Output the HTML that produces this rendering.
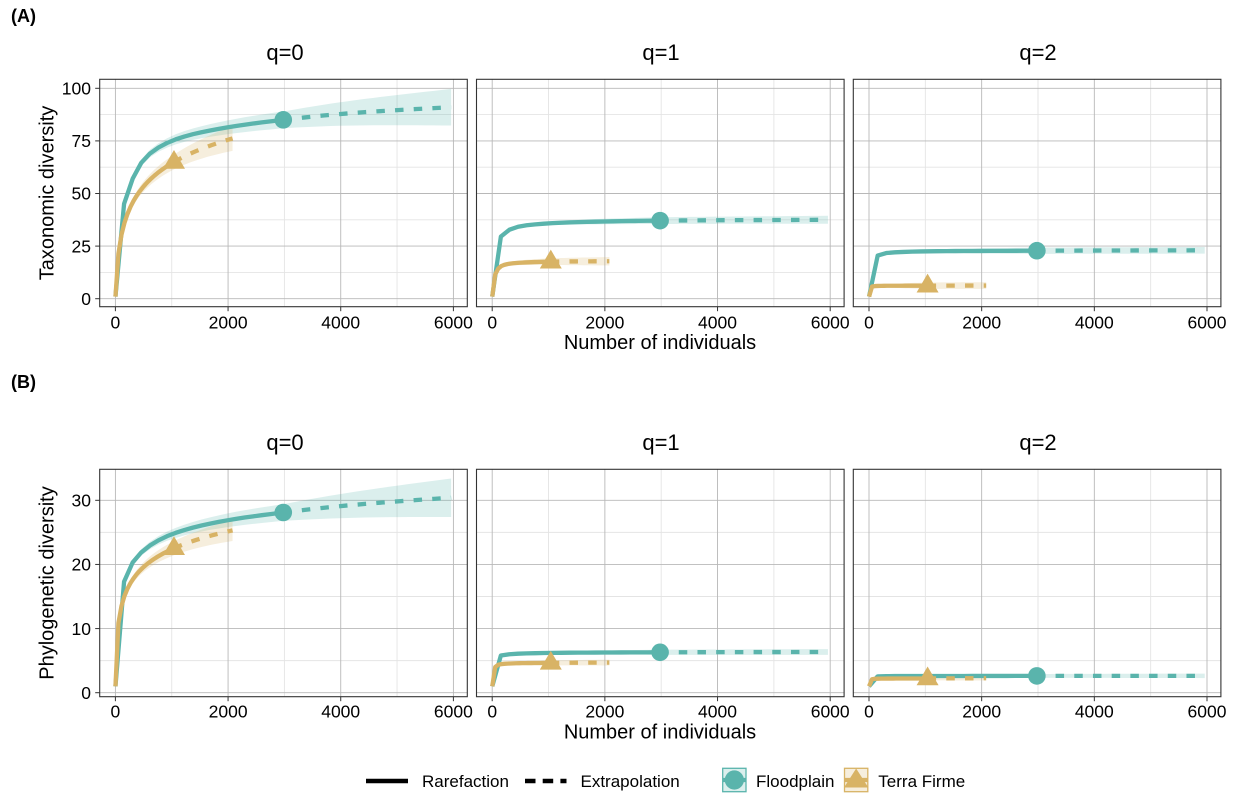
<!DOCTYPE html>
<html><head><meta charset="utf-8">
<style>
html,body{margin:0;padding:0;background:#fff;}
svg{display:block;font-family:"Liberation Sans",Arial,sans-serif;}
</style></head>
<body>
<svg id="s" width="1239" height="797" viewBox="0 0 1239 797" xmlns="http://www.w3.org/2000/svg">
<rect width="1239" height="797" fill="#fff"/>
<defs id="defs"></defs>
<g id="plots"></g>

<!-- panel labels -->
<g font-weight="bold" font-size="18" fill="#000">
<text x="11" y="22">(A)</text>
<text x="11" y="388">(B)</text>
</g>

<!-- strip titles -->
<g font-size="22" fill="#000" text-anchor="middle">
<text x="285" y="60">q=0</text>
<text x="661" y="60">q=1</text>
<text x="1038" y="60">q=2</text>
<text x="285" y="450">q=0</text>
<text x="661" y="450">q=1</text>
<text x="1038" y="450">q=2</text>
</g>

<!-- x tick labels -->
<g font-size="17.5" fill="#000" text-anchor="middle">
<text x="115.4" y="328.3">0</text><text x="228.1" y="328.3">2000</text><text x="340.7" y="328.3">4000</text><text x="453.4" y="328.3">6000</text>
<text x="492.2" y="328.3">0</text><text x="604.9" y="328.3">2000</text><text x="717.5" y="328.3">4000</text><text x="830.2" y="328.3">6000</text>
<text x="869.0" y="328.3">0</text><text x="981.7" y="328.3">2000</text><text x="1094.3" y="328.3">4000</text><text x="1207.0" y="328.3">6000</text>
<text x="115.4" y="717.7">0</text><text x="228.1" y="717.7">2000</text><text x="340.7" y="717.7">4000</text><text x="453.4" y="717.7">6000</text>
<text x="492.2" y="717.7">0</text><text x="604.9" y="717.7">2000</text><text x="717.5" y="717.7">4000</text><text x="830.2" y="717.7">6000</text>
<text x="869.0" y="717.7">0</text><text x="981.7" y="717.7">2000</text><text x="1094.3" y="717.7">4000</text><text x="1207.0" y="717.7">6000</text>
</g>

<!-- y tick labels -->
<g font-size="17.5" fill="#000" text-anchor="end">
<text x="91" y="304.9">0</text>
<text x="91" y="252.3">25</text>
<text x="91" y="199.7">50</text>
<text x="91" y="147.1">75</text>
<text x="91" y="94.5">100</text>
<text x="91" y="698.9">0</text>
<text x="91" y="634.8">10</text>
<text x="91" y="570.6">20</text>
<text x="91" y="506.5">30</text>
</g>

<!-- axis titles -->
<g font-size="20" fill="#000" text-anchor="middle">
<text x="660" y="349">Number of individuals</text>
<text x="660" y="738.5">Number of individuals</text>
<text transform="translate(53.5,193) rotate(-90)">Taxonomic diversity</text>
<text transform="translate(53.5,583) rotate(-90)">Phylogenetic diversity</text>
</g>

<!-- legend -->
<g>
<line x1="366" y1="781" x2="408" y2="781" stroke="#000" stroke-width="4.5"/>
<line x1="525" y1="781" x2="566.5" y2="781" stroke="#000" stroke-width="4.5" stroke-dasharray="10.5 7.2"/>
<clipPath id="kc1"><rect x="722.7" y="768.3" width="23.3" height="23.4"/></clipPath>
<clipPath id="kc2"><rect x="844.5" y="768.3" width="23.3" height="23.4"/></clipPath>
<rect x="722.7" y="768.3" width="23.3" height="23.4" fill="#5ab4ac" fill-opacity="0.22"/>
<line x1="722.7" y1="780" x2="746" y2="780" stroke="#5ab4ac" stroke-width="4.3"/>
<circle cx="734.35" cy="780" r="9.6" fill="#5ab4ac" clip-path="url(#kc1)"/>
<rect x="722.7" y="768.3" width="23.3" height="23.4" fill="none" stroke="#5ab4ac" stroke-width="1.3"/>
<rect x="844.5" y="768.3" width="23.3" height="23.4" fill="#d8b365" fill-opacity="0.22"/>
<line x1="844.5" y1="780" x2="867.8" y2="780" stroke="#d8b365" stroke-width="4.3"/>
<polygon points="856.15,768.5 844,787.5 868.3,787.5" fill="#d8b365" clip-path="url(#kc2)"/>
<rect x="844.5" y="768.3" width="23.3" height="23.4" fill="none" stroke="#d8b365" stroke-width="1.3"/>
<g font-size="17" fill="#000">
<text x="422" y="787">Rarefaction</text>
<text x="580.5" y="787">Extrapolation</text>
<text x="756" y="787">Floodplain</text>
<text x="878.3" y="787">Terra Firme</text>
</g>
</g>
</svg>

<script>
(function(){
const NS="http://www.w3.org/2000/svg";
const plots=document.getElementById("plots");
const defs=document.getElementById("defs");
function mk(tag,attrs,parent){const e=document.createElementNS(NS,tag);for(const k in attrs)e.setAttribute(k,attrs[k]);(parent||plots).appendChild(e);return e;}

function mono(cp){
  const xs=cp.map(p=>Math.log(p[0])), ys=cp.map(p=>p[1]), n=xs.length, d=[], t=[];
  for(let i=0;i<n-1;i++) d.push((ys[i+1]-ys[i])/(xs[i+1]-xs[i]));
  t[0]=d[0]; t[n-1]=d[n-2];
  for(let i=1;i<n-1;i++) t[i]=(d[i-1]*d[i]<=0)?0:(d[i-1]+d[i])/2;
  for(let i=0;i<n-1;i++){
    if(d[i]===0){t[i]=0;t[i+1]=0;continue;}
    const a=t[i]/d[i], b=t[i+1]/d[i], s=a*a+b*b;
    if(s>9){const k=3/Math.sqrt(s); t[i]=k*a*d[i]; t[i+1]=k*b*d[i];}
  }
  return function(m){
    const x=Math.log(Math.max(1,m)); let i=0;
    while(i<n-2 && x>xs[i+1]) i++;
    const h=xs[i+1]-xs[i]; const u=Math.min(1,Math.max(0,(x-xs[i])/h));
    const u2=u*u,u3=u2*u;
    return (2*u3-3*u2+1)*ys[i]+(u3-2*u2+u)*h*t[i]+(-2*u3+3*u2)*ys[i+1]+(u3-u2)*h*t[i+1];
  };
}
function logf(a,b){return m=>Math.max(1,a*Math.log(1+m/b));}

const T="#5ab4ac", G="#d8b365";
const X0=[115.4,492.2,869.0], SX=338/6000;
const rows=[
  {top:79.3,bot:306.7,y0:298.7,sy:2.104,maj:[0,25,50,75,100],min:[12.5,37.5,62.5,87.5]},
  {top:469.3,bot:696.7,y0:692.7,sy:6.413,maj:[0,10,20,30],min:[5,15,25]}
];

const S=[
 // Row A
 {r:0,p:0,c:T,n:2980,e:5960,f:mono([[1,1],[153,45],[306,57],[500,66],[1000,75],[2000,81.5],[2980,85],[4000,87.8],[5960,91]]),hn:4,he:8.7,sh:'c'},
 {r:0,p:0,c:G,n:1040,e:2080,f:logf(16.37,20),hn:3.5,he:5.9,sh:'t'},
 {r:0,p:1,c:T,n:2980,e:5960,f:mono([[1,1],[153,29.5],[306,32.8],[459,34.2],[1000,35.8],[2000,36.7],[2980,37.1],[5960,37.5]]),hn:1.6,he:1.9,sh:'c'},
 {r:0,p:1,c:G,n:1040,e:2080,f:mono([[1,1],[53,11.5],[107,14.3],[160,15.5],[300,16.6],[500,17.1],[1040,17.6],[2080,17.8]]),hn:1.6,he:2.0,sh:'t'},
 {r:0,p:2,c:T,n:2980,e:5960,f:mono([[1,1],[153,20.5],[306,21.7],[500,22.1],[1000,22.5],[2980,22.8],[5960,23.0]]),hn:1.5,he:1.6,sh:'c'},
 {r:0,p:2,c:G,n:1040,e:2080,f:mono([[1,1],[53,5.8],[107,6.0],[200,6.1],[1040,6.2],[2080,6.25]]),hn:1.5,he:1.6,sh:'t'},
 // Row B
 {r:1,p:0,c:T,n:2980,e:5960,f:mono([[1,1],[153,17.3],[306,20.3],[500,22.2],[1000,24.7],[2000,26.9],[2980,28.1],[4000,29.1],[5960,30.4]]),hn:1.3,he:3.0,sh:'c'},
 {r:1,p:0,c:G,n:1040,e:2080,f:logf(4.03,3.9),hn:1.1,he:1.65,sh:'t'},
 {r:1,p:1,c:T,n:2980,e:5960,f:mono([[1,1],[153,5.8],[306,6.0],[1000,6.2],[2980,6.3],[5960,6.35]]),hn:0.4,he:0.45,sh:'c'},
 {r:1,p:1,c:G,n:1040,e:2080,f:mono([[1,1],[53,4.0],[107,4.35],[300,4.55],[1040,4.65],[2080,4.7]]),hn:0.4,he:0.45,sh:'t'},
 {r:1,p:2,c:T,n:2980,e:5960,f:mono([[1,1],[153,2.55],[1000,2.6],[2980,2.62],[5960,2.63]]),hn:0.3,he:0.35,sh:'c'},
 {r:1,p:2,c:G,n:1040,e:2080,f:mono([[1,1],[53,2.1],[300,2.2],[1040,2.22],[2080,2.25]]),hn:0.3,he:0.35,sh:'t'}
];

function knots(n,e){
  const a=[];
  for(let i=0;i<40;i++) a.push(Math.round(1+(e-1)*i/39));
  a.push(n);
  return Array.from(new Set(a)).sort((x,y)=>x-y);
}

// panels: background grid, clip
for(let r=0;r<2;r++){
  const R=rows[r];
  for(let p=0;p<3;p++){
    const x0=X0[p], L=x0-15.7, W=367.6;
    const cid="cp"+r+p;
    const cp=mk("clipPath",{id:cid},defs);
    mk("rect",{x:L,y:R.top,width:W,height:R.bot-R.top},cp);
    const g=mk("g",{});
    R.min.forEach(v=>{const y=R.y0-v*R.sy; mk("line",{x1:L,x2:L+W,y1:y,y2:y,stroke:"#e4e4e4","stroke-width":0.9},g);});
    [1000,3000,5000].forEach(v=>{const x=x0+v*SX; mk("line",{x1:x,x2:x,y1:R.top,y2:R.bot,stroke:"#e4e4e4","stroke-width":0.9},g);});
    R.maj.forEach(v=>{const y=R.y0-v*R.sy; mk("line",{x1:L,x2:L+W,y1:y,y2:y,stroke:"#b8b8b8","stroke-width":0.9},g);});
    [0,2000,4000,6000].forEach(v=>{const x=x0+v*SX; mk("line",{x1:x,x2:x,y1:R.top,y2:R.bot,stroke:"#b8b8b8","stroke-width":0.9},g);});
    // x ticks
    [0,2000,4000,6000].forEach(v=>{const x=x0+v*SX; mk("line",{x1:x,x2:x,y1:R.bot,y2:R.bot+4.5,stroke:"#333","stroke-width":1},g);});
    if(p===0){
      R.maj.forEach(v=>{const y=R.y0-v*R.sy; mk("line",{x1:L-4.5,x2:L,y1:y,y2:y,stroke:"#333","stroke-width":1},g);});
    }
    const pg=mk("g",{"clip-path":"url(#"+cid+")",id:"pg"+r+p});
    // border drawn later
  }
}

const layers={};
function layer(r,p,name){
  const key=r+"_"+p+"_"+name;
  if(!layers[key]) layers[key]=mk("g",{},document.getElementById("pg"+r+p));
  return layers[key];
}
// create layer order
for(let r=0;r<2;r++)for(let p=0;p<3;p++){["bandT","bandG","lineT","lineG","ptT","ptG"].forEach(n=>layer(r,p,n));}

S.forEach(s=>{
  const R=rows[s.r], x0=X0[s.p];
  const ks=knots(s.n,s.e);
  const X=m=>x0+m*SX, Y=v=>R.y0-v*R.sy;
  const hw=m=> m<=s.n ? s.hn*Math.sqrt(m/s.n) : s.hn+(s.he-s.hn)*((m-s.n)/s.n);
  const tag=s.c===T?"T":"G";
  // band
  const up=ks.map(m=>X(m).toFixed(2)+","+Y(s.f(m)+hw(m)).toFixed(2));
  const lo=ks.slice().reverse().map(m=>X(m).toFixed(2)+","+Y(s.f(m)-hw(m)).toFixed(2));
  mk("polygon",{points:up.concat(lo).join(" "),fill:s.c,"fill-opacity":0.22},layer(s.r,s.p,"band"+tag));
  // solid
  const sol=ks.filter(m=>m<=s.n).map(m=>X(m).toFixed(2)+","+Y(s.f(m)).toFixed(2)).join(" ");
  mk("polyline",{points:sol,fill:"none",stroke:s.c,"stroke-width":4.3,"stroke-linejoin":"round"},layer(s.r,s.p,"line"+tag));
  const das=ks.filter(m=>m>=s.n).map(m=>X(m).toFixed(2)+","+Y(s.f(m)).toFixed(2)).join(" ");
  mk("polyline",{points:das,fill:"none",stroke:s.c,"stroke-width":4.3,"stroke-dasharray":"8.5 10.2","stroke-linejoin":"round"},layer(s.r,s.p,"line"+tag));
  // point
  const px=X(s.n), py=Y(s.f(s.n));
  if(s.sh==='c') mk("circle",{cx:px,cy:py,r:8.8,fill:s.c},layer(s.r,s.p,"pt"+tag));
  else mk("polygon",{points:`${px},${py-12} ${px-11},${py+6.8} ${px+11},${py+6.8}`,fill:s.c},layer(s.r,s.p,"pt"+tag));
});

// borders
for(let r=0;r<2;r++){
  const R=rows[r];
  for(let p=0;p<3;p++){
    const L=X0[p]-15.7;
    mk("rect",{x:L,y:R.top,width:367.6,height:R.bot-R.top,fill:"none",stroke:"#333","stroke-width":1.1});
  }
}
})();
</script>
</body></html>
